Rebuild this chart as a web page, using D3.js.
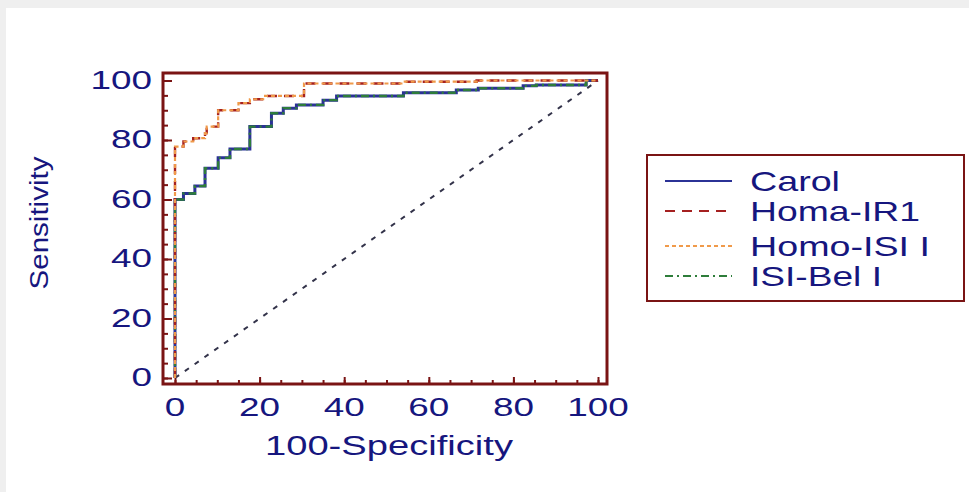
<!DOCTYPE html>
<html>
<head>
<meta charset="utf-8">
<script src="https://cdn.jsdelivr.net/npm/d3@7"></script>
<style>
  html, body { margin: 0; padding: 0; background: #fff; }
  svg { display: block; }
  text { font-family: "Liberation Sans", Arial, sans-serif; fill: #16167e; }
</style>
</head>
<body>
<svg id="chart" width="969" height="492"></svg>
<script>
// ROC curves (100-specificity, sensitivity)
const carolX  = [0, 0, 2, 4.7, 7.1, 10.2, 13, 17.7, 22.8, 25.6, 28.7, 35, 38.2, 54, 66.5, 71.7, 82.3, 85.4, 97.2, 100];
const carolY  = [0, 60, 62, 64.5, 70.5, 74, 77, 84.5, 89, 90.7, 91.8, 93.4, 94.8, 95.9, 96.8, 97.4, 98.2, 98.5, 100, 100];
const isiBelX = [0, 0, 2, 4.7, 7.1, 10.2, 13, 17.7, 22.8, 25.6, 28.7, 35, 38.2, 54, 66.5, 71.7, 82.3, 85.4, 97.2, 100];
const isiBelY = [0, 60, 62, 64.5, 70.5, 74, 77, 84.5, 89, 90.7, 91.8, 93.4, 94.8, 95.9, 96.8, 97.4, 98.2, 98.5, 100, 100];
const homaX   = [0, 0, 2, 4.3, 7.1, 7.5, 10.2, 15, 17.7, 21.3, 30.5, 54, 71.3, 100];
const homaY   = [0, 77.8, 79.5, 80.6, 82.3, 84.5, 90, 92.4, 93.7, 94.8, 99, 99.6, 100, 100];
const homoX   = [0, 0, 2, 4.3, 7.1, 7.5, 10.2, 15, 17.7, 21.3, 30.5, 54, 71.3, 100];
const homoY   = [0, 77.8, 79.5, 80.6, 82.3, 84.5, 90, 92.4, 93.7, 94.8, 99, 99.6, 100, 100];
const diagX   = [0, 100];
const diagY   = [0, 100];

const seriesNames = ['Carol', 'Homa-IR1', 'Homo-ISI I', 'ISI-Bel I'];
const majorTicks = [0, 20, 40, 60, 80, 100];
const xTitle = '100-Specificity';
const yTitle = 'Sensitivity';

const svg = d3.select('#chart');

// grey page edge at top / left
svg.append('rect').attr('width', 969).attr('height', 492).attr('fill', '#efefef');
svg.append('rect').attr('x', 6).attr('y', 8).attr('width', 963).attr('height', 484).attr('fill', '#fff');

const x = d3.scaleLinear().domain([0, 100]).range([175, 598]);
const y = d3.scaleLinear().domain([0, 100]).range([378, 80.5]);

const frame = { left: 163, top: 73, right: 607, bottom: 384 };
const frameColor = '#7a1414';

// ticks (inside the frame)
const minor = d3.range(0, 101, 5);
svg.append('g').attr('transform', `translate(0,${frame.bottom})`)
  .call(d3.axisBottom(x).tickValues(minor).tickSize(-4).tickFormat(''));
svg.append('g').attr('transform', `translate(0,${frame.bottom})`)
  .call(d3.axisBottom(x).tickValues(majorTicks).tickSize(-7).tickFormat(''));
svg.append('g').attr('transform', `translate(${frame.left},0)`)
  .call(d3.axisLeft(y).tickValues(minor).tickSize(-5).tickFormat(''));
svg.append('g').attr('transform', `translate(${frame.left},0)`)
  .call(d3.axisLeft(y).tickValues(majorTicks).tickSize(-9).tickFormat(''));
svg.selectAll('.domain').remove();
svg.selectAll('.tick line').attr('stroke', frameColor).attr('stroke-width', 2);

// tick labels
svg.append('g').selectAll('text').data(majorTicks).join('text')
  .attr('x', d => x(d)).attr('y', 416)
  .attr('text-anchor', 'middle')
  .attr('font-size', 25)
  .attr('textLength', d => String(d).length * 20.5)
  .attr('lengthAdjust', 'spacingAndGlyphs')
  .text(d => d);
svg.append('g').selectAll('text').data(majorTicks).join('text')
  .attr('x', 152).attr('y', d => y(d) + 8)
  .attr('text-anchor', 'end')
  .attr('font-size', 25)
  .attr('textLength', d => String(d).length * 20.5)
  .attr('lengthAdjust', 'spacingAndGlyphs')
  .text(d => d);

// axis titles
svg.append('text')
  .attr('x', 389).attr('y', 455)
  .attr('text-anchor', 'middle')
  .attr('font-size', 27)
  .attr('textLength', 248).attr('lengthAdjust', 'spacingAndGlyphs')
  .text(xTitle);
svg.append('text')
  .attr('transform', 'translate(48,223) rotate(-90)')
  .attr('text-anchor', 'middle')
  .attr('font-size', 25)
  .attr('textLength', 133).attr('lengthAdjust', 'spacingAndGlyphs')
  .text(yTitle);

// curves
const line = d3.line().x(d => x(d[0])).y(d => y(d[1])).curve(d3.curveStepAfter);
const straight = d3.line().x(d => x(d[0])).y(d => y(d[1]));
const zip = (a, b) => a.map((v, i) => [v, b[i]]);

const styles = [
  { color: '#2b3296', dash: null, w: 3 },
  { color: '#a52020', dash: '10,7', w: 2.4 },
  { color: '#f09a4a', dash: '4,3', w: 2.2 },
  { color: '#2e7d3a', dash: '8,4,2,4', w: 2.4 }
];

svg.append('path').attr('d', straight(zip(diagX, diagY)))
  .attr('fill', 'none').attr('stroke', '#33334a').attr('stroke-width', 2).attr('stroke-dasharray', '5,7');

svg.append('path').attr('d', line(zip(carolX, carolY)))
  .attr('fill', 'none').attr('stroke', styles[0].color).attr('stroke-width', styles[0].w);
svg.append('path').attr('d', line(zip(isiBelX, isiBelY)))
  .attr('fill', 'none').attr('stroke', styles[3].color).attr('stroke-width', styles[3].w).attr('stroke-dasharray', styles[3].dash);
svg.append('path').attr('d', line(zip(homaX, homaY)))
  .attr('fill', 'none').attr('stroke', styles[1].color).attr('stroke-width', styles[1].w).attr('stroke-dasharray', styles[1].dash);
svg.append('path').attr('d', line(zip(homoX, homoY)))
  .attr('fill', 'none').attr('stroke', styles[2].color).attr('stroke-width', styles[2].w).attr('stroke-dasharray', styles[2].dash);

// frame
svg.append('rect')
  .attr('x', frame.left).attr('y', frame.top)
  .attr('width', frame.right - frame.left).attr('height', frame.bottom - frame.top)
  .attr('fill', 'none').attr('stroke', frameColor).attr('stroke-width', 3);

// legend
const legend = svg.append('g');
legend.append('rect')
  .attr('x', 647).attr('y', 155).attr('width', 317).attr('height', 146)
  .attr('fill', '#fff').attr('stroke', frameColor).attr('stroke-width', 2);
const rowY = [181, 211, 246, 276];
const textLen = [90, 170, 180, 132];
seriesNames.forEach((name, i) => {
  legend.append('line')
    .attr('x1', 665).attr('x2', 732).attr('y1', rowY[i]).attr('y2', rowY[i])
    .attr('stroke', styles[i].color).attr('stroke-width', 1.8)
    .attr('stroke-dasharray', styles[i].dash);
  legend.append('text')
    .attr('x', 750).attr('y', rowY[i] + 10)
    .attr('font-size', 28)
    .attr('textLength', textLen[i]).attr('lengthAdjust', 'spacingAndGlyphs')
    .text(name);
});
</script>
</body>
</html>
